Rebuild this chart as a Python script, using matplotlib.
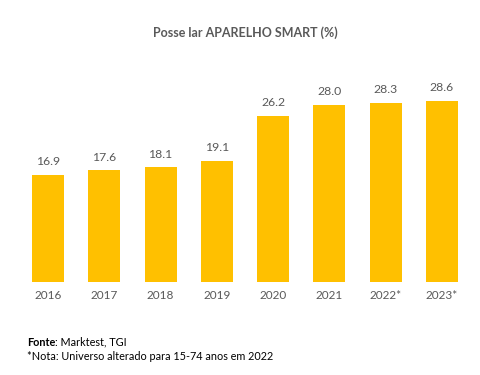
import matplotlib
matplotlib.use("Agg")
import matplotlib.pyplot as plt

YEARS = ["2016", "2017", "2018", "2019", "2020", "2021", "2022*", "2023*"]
VALUES = [16.9, 17.6, 18.1, 19.1, 26.2, 28.0, 28.3, 28.6]

BAR = "#FFC000"
TXT = "#595959"

plt.rcParams["font.family"] = ["Lato", "DejaVu Sans"]

fig = plt.figure(figsize=(4.8, 3.75), dpi=100)
fig.patch.set_facecolor("white")
ax = fig.add_axes([0.0417, 0.248, 0.9375, 0.507])

x = range(len(YEARS))
ax.bar(x, VALUES, width=0.57, color=BAR, edgecolor="none")
for xi, v in zip(x, VALUES):
    ax.annotate(f"{v:.1f}", (xi, v), xytext=(0, 5.5), textcoords="offset points",
                ha="center", va="bottom", fontsize=8.8, color=TXT)

ax.set_xlim(-0.5, len(YEARS) - 0.5)
ax.set_ylim(0, 30)
ax.set_xticks(list(x))
ax.set_xticklabels(YEARS, fontsize=8.5, color=TXT)
ax.tick_params(axis="x", length=0, pad=6)
ax.set_yticks([])
for s in ax.spines.values():
    s.set_visible(False)

fig.text(0.511, 0.912, "Posse lar APARELHO SMART (%)", ha="center", va="center",
         fontsize=9, fontweight="bold", color=TXT)

# footer: bold "Fonte" followed by normal text
t = fig.text(0.056, 0.088, "Fonte", ha="left", va="center",
             fontsize=7.8, fontweight="bold", color="black")
fig.canvas.draw()
bb = t.get_window_extent().transformed(fig.transFigure.inverted())
fig.text(bb.x1, 0.088, ": Marktest, TGI", ha="left", va="center",
         fontsize=7.8, color="black")
fig.text(0.056, 0.050, "*Nota: Universo alterado para 15-74 anos em 2022",
         ha="left", va="center", fontsize=7.8, color="black")

fig.savefig("out.png", dpi=100)
